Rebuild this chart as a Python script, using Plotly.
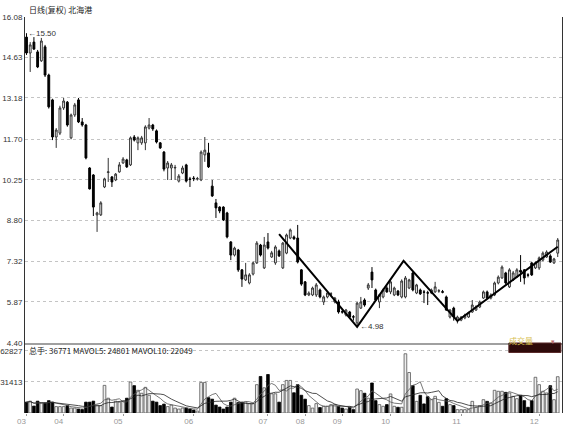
import plotly.graph_objects as go
import pandas as pd

# ---------------- data ----------------
opens = [15.36,14.79,15.18,14.83,14.51,15.01,14.00,13.11,11.78,11.92,
         12.82,13.03,11.75,12.57,13.11,12.32,12.21,10.67,10.42,8.99,
         8.99,9.99,10.51,10.35,10.24,10.53,10.85,10.96,10.78,11.78,
         11.57,11.57,11.57,12.10,12.21,12.00,11.57,11.24,10.67,10.67,
         10.67,10.20,10.49,10.78,10.28,10.31,10.27,10.24,11.14,11.21,
         10.02,9.42,9.27,9.27,9.06,8.02,7.55,7.73,7.02,6.66,
         6.55,6.87,7.27,7.91,7.09,8.02,7.48,7.27,7.70,7.09,
         7.62,8.16,8.20,8.16,7.02,6.59,6.12,6.12,6.12,6.30,
         5.87,6.05,6.15,5.87,5.87,5.52,5.40,5.51,5.34,5.12,
         5.65,5.94,6.37,6.94,6.30,5.87,6.05,6.37,6.23,6.12,
         6.26,6.05,6.05,6.37,6.91,6.19,6.30,6.23,6.20,6.19,
         6.23,6.26,6.24,6.05,5.33,5.65,5.22,5.22,5.30,5.33,
         5.51,5.58,5.69,6.01,6.23,6.01,6.12,6.55,6.73,6.91,
         6.41,6.66,6.77,7.00,7.02,6.84,7.27,7.09,7.09,7.37,
         7.48,7.52,7.27,7.62]
closes = [14.79,15.08,14.93,14.29,15.22,14.00,12.86,11.78,12.03,12.82,
          13.07,12.21,12.57,12.93,12.32,12.21,11.03,9.92,9.27,9.06,
          9.42,10.28,10.53,10.17,10.45,10.78,10.99,10.71,11.75,11.67,
          11.75,11.75,12.14,12.21,12.07,11.60,11.39,10.63,10.85,10.78,
          10.69,10.38,10.67,10.20,10.26,10.29,10.29,11.24,11.31,10.71,
          9.67,9.24,9.13,8.81,8.20,7.55,7.80,7.02,6.69,6.84,
          6.84,7.27,7.98,7.55,7.91,7.80,7.63,7.84,7.52,7.98,
          8.27,8.45,8.13,7.30,6.51,6.12,6.19,6.37,6.48,6.05,
          6.05,6.19,6.16,6.01,5.51,5.51,5.58,5.33,5.33,5.83,
          5.87,5.76,6.48,6.66,5.94,6.12,6.30,6.23,6.59,6.37,
          6.12,6.62,6.73,6.66,6.30,6.48,6.16,6.22,6.19,6.30,
          6.41,6.27,6.22,5.58,5.58,5.33,5.33,5.33,5.40,5.48,
          5.76,5.69,5.87,6.23,6.01,6.12,6.55,6.76,7.12,6.55,
          7.02,6.91,7.02,6.94,6.73,6.83,6.84,7.27,7.45,7.62,
          7.66,7.30,7.41,8.09]
highs = [15.50,15.18,15.36,14.90,15.33,15.08,14.05,13.15,12.10,12.90,
         13.18,13.07,12.62,13.00,13.18,12.46,12.25,10.70,10.45,9.10,
         9.48,10.32,11.03,10.38,10.49,10.88,11.06,11.00,11.80,11.85,
         11.80,11.82,12.20,12.46,12.25,12.05,11.60,11.28,10.92,10.85,
         10.78,10.45,10.75,10.82,10.35,10.38,10.35,11.30,11.78,11.57,
         10.24,9.56,9.30,9.30,9.10,8.05,7.85,7.77,7.05,7.27,
         6.90,7.32,8.05,7.95,8.20,8.34,7.70,7.90,7.75,8.02,
         8.32,8.50,8.25,8.63,7.05,6.62,6.25,6.42,6.55,6.35,
         6.10,6.25,6.22,6.05,5.95,5.60,5.62,5.55,5.40,5.87,
         6.05,6.00,6.55,7.12,6.35,6.15,6.35,6.45,6.65,6.42,
         6.30,6.68,6.80,6.70,6.95,6.52,6.35,6.30,6.27,6.35,
         6.59,6.33,6.30,6.10,5.62,5.70,5.38,5.36,5.45,5.52,
         5.94,5.75,5.92,6.28,6.28,6.18,6.60,6.82,7.18,6.95,
         7.08,6.98,7.08,7.55,7.05,6.90,7.30,7.32,7.50,7.68,
         7.72,7.58,7.45,8.16]
lows = [14.72,14.11,14.90,14.25,14.47,13.93,12.80,11.67,11.39,11.85,
        12.75,12.15,11.70,12.50,12.28,12.15,10.98,9.90,8.95,8.38,
        8.95,9.95,10.17,9.99,10.20,10.50,10.82,10.67,10.74,11.62,
        11.31,11.50,11.31,12.05,12.00,11.55,11.35,10.55,10.24,10.24,
        10.24,10.15,10.45,10.15,9.99,10.20,10.22,10.20,10.89,10.67,
        9.63,8.88,9.05,8.77,8.15,7.37,7.50,6.95,6.41,6.62,
        6.50,6.82,7.23,7.50,7.05,7.75,7.45,7.20,7.48,7.05,
        7.58,8.12,8.10,7.25,6.45,6.08,6.08,6.08,6.05,6.00,
        5.76,6.00,6.08,5.82,5.45,5.45,5.35,5.28,5.20,4.98,
        5.62,5.70,6.30,6.37,5.90,5.65,6.00,6.20,6.15,6.08,
        6.08,6.00,6.00,6.33,6.25,6.15,6.12,5.83,5.76,6.15,
        6.20,6.20,6.18,5.55,5.28,5.20,5.10,5.18,5.25,5.30,
        5.48,5.55,5.65,5.98,5.98,5.96,6.08,6.50,6.70,6.50,
        6.37,6.62,6.73,6.59,6.50,6.75,6.80,7.05,7.02,7.33,
        7.45,7.27,7.23,7.48]
volumes = [11000,12000,7000,12000,10000,10000,12500,11000,6500,6500,
           6500,7500,5000,5000,4000,3500,11000,11000,12000,8000,
           7500,28000,15000,6000,12000,11000,12000,15000,31400,27700,
           23000,20000,26000,18000,12000,11000,7500,9000,6500,8000,
           5000,4000,5000,5000,4000,3000,2000,31000,31000,15500,
           14000,8000,6000,4000,6000,11000,15000,10500,11000,11000,
           9500,9500,28700,37000,25500,39000,19500,19500,11000,28700,
           33000,33000,20500,28700,18000,14000,7500,5000,9500,5500,
           6800,6800,8500,8500,6800,5000,4000,5800,3400,24300,
           22600,20000,15000,30400,12500,8500,6800,8500,19300,6800,
           5800,5800,60000,41000,27700,11800,17900,9200,16500,13500,
           16900,10800,6800,14500,8500,7500,3400,3400,3400,3400,
           11800,5800,7500,13500,11800,10200,23000,22000,22000,20900,
           20300,16900,14500,17900,12500,5800,12500,36200,28700,22000,
           20300,27700,13500,36771]

price_ticks = [4.40, 5.87, 7.32, 8.80, 10.25, 11.70, 13.18, 14.63, 16.08]
price_tick_labels = ["4.40", "5.87", "7.32", "8.80", "10.25", "11.70", "13.18", "14.63", "16.08"]
vol_ticks = [31413, 62827]
vol_tick_labels = ["31413", "62827"]
month_pos = [0, 10, 26, 45, 65, 75, 85, 98, 117, 138]
month_labels = ["03", "04", "05", "06", "07", "08", "09", "10", "11", "12"]

# zig-zag trend line (bar index, price)
trend_x = [68, 89, 101.5, 116, 143]
trend_y = [8.30, 4.98, 7.34, 5.19, 7.85]

title_text = "日线(复权) 北海港"
vol_text = "总手: 36771 MAVOL5: 24801 MAVOL10: 22049"
vol_button_text = "成交量"

# ---------------- figure ----------------
idx = list(range(len(opens)))
vol_s = pd.Series(volumes, dtype=float)
ma5 = vol_s.rolling(5, min_periods=1).mean()
ma10 = vol_s.rolling(10, min_periods=1).mean()

up_x = [i for i in idx if closes[i] >= opens[i]]
dn_x = [i for i in idx if closes[i] < opens[i]]

fig = go.Figure()
fig.add_trace(go.Candlestick(
    x=idx, open=opens, high=highs, low=lows, close=closes,
    increasing=dict(line=dict(color="#333333", width=1), fillcolor="#ffffff"),
    decreasing=dict(line=dict(color="#000000", width=1), fillcolor="#000000"),
    whiskerwidth=0, showlegend=False, hoverinfo="skip", xaxis="x", yaxis="y"))

fig.add_trace(go.Scatter(x=trend_x, y=trend_y, mode="lines",
                         line=dict(color="#000000", width=2),
                         showlegend=False, hoverinfo="skip", xaxis="x", yaxis="y"))

fig.add_trace(go.Bar(x=up_x, y=[volumes[i] for i in up_x], width=0.72,
                     marker=dict(color="#eeeeee", line=dict(color="#555555", width=0.8)),
                     showlegend=False, hoverinfo="skip", xaxis="x2", yaxis="y2"))
fig.add_trace(go.Bar(x=dn_x, y=[volumes[i] for i in dn_x], width=0.72,
                     marker=dict(color="#000000", line=dict(color="#000000", width=0.8)),
                     showlegend=False, hoverinfo="skip", xaxis="x2", yaxis="y2"))
fig.add_trace(go.Scatter(x=idx, y=ma5, mode="lines", line=dict(color="#555555", width=0.8),
                         showlegend=False, hoverinfo="skip", xaxis="x2", yaxis="y2"))
fig.add_trace(go.Scatter(x=idx, y=ma10, mode="lines", line=dict(color="#222222", width=0.8),
                         showlegend=False, hoverinfo="skip", xaxis="x2", yaxis="y2"))

tick_font = dict(family="Liberation Sans, Arial, sans-serif", size=8, color="#333333")
xr = [-0.4, 144.15]
split = 0.1768

fig.update_layout(
    template="none",
    width=569, height=425,
    margin=dict(l=25, r=7, t=17, b=12, pad=0, autoexpand=False),
    paper_bgcolor="white", plot_bgcolor="white",
    showlegend=False, barmode="overlay",
    xaxis=dict(domain=[0, 1], anchor="y", range=xr, showticklabels=False, ticks="",
               showgrid=False, zeroline=False, rangeslider=dict(visible=False), automargin=False,
               showline=True, linecolor="#a0a0a0", linewidth=2),
    yaxis=dict(domain=[split, 1], anchor="x", range=[4.40, 16.08], automargin=False,
               tickvals=price_ticks, ticktext=price_tick_labels, tickfont=tick_font,
               ticks="", showgrid=True, gridcolor="#c4c4c4", griddash="dot", gridwidth=1,
               zeroline=False, showline=True, linecolor="#333333", linewidth=1, mirror=True),
    xaxis2=dict(domain=[0, 1], anchor="y2", range=xr, matches="x", automargin=False,
                tickvals=month_pos, ticktext=month_labels, ticks="outside", ticklen=2,
                tickcolor="#999999", ticklabelposition="outside left",
                tickfont=dict(family="Liberation Sans, Arial, sans-serif", size=8, color="#999999"),
                showgrid=False, zeroline=False, showline=False),
    yaxis2=dict(domain=[0, split], anchor="x2", range=[0, 70931], automargin=False,
                tickvals=vol_ticks, ticktext=vol_tick_labels, tickfont=tick_font,
                ticks="", showgrid=True, gridcolor="#c4c4c4", griddash="dot", gridwidth=1,
                zeroline=False, showline=True, linecolor="#333333", linewidth=1, mirror=True),
)

ann_font = dict(family="Noto Sans CJK SC, sans-serif", size=8, color="#222222")
fig.add_annotation(xref="paper", yref="paper", x=0.003, y=1.0, yanchor="bottom", xanchor="left",
                   text=title_text, showarrow=False, font=ann_font)
fig.add_annotation(xref="paper", yref="paper", x=0.003, y=split, yanchor="top", xanchor="left",
                   text=vol_text, showarrow=False,
                   font=dict(family="Noto Sans CJK SC, sans-serif", size=8, color="#222222"))
# high / low markers
fig.add_annotation(xref="x", yref="y", x=idx[0], y=highs[0], xanchor="left", yanchor="middle",
                   text="←15.50", showarrow=False,
                   font=dict(family="Liberation Sans, sans-serif", size=8, color="#333333"))
low_i = lows.index(min(lows))
fig.add_annotation(xref="x", yref="y", x=idx[low_i], y=lows[low_i], xanchor="left", yanchor="middle",
                   text="←4.98", showarrow=False, xshift=1,
                   font=dict(family="Liberation Sans, sans-serif", size=8, color="#333333"))
# volume selector box
fig.add_shape(type="rect", xref="paper", yref="paper", x0=0.901, x1=0.998,
              y0=split - 0.024, y1=split, fillcolor="#2e0a0a", line=dict(color="#5a2a2a", width=1),
              layer="above")
fig.add_annotation(xref="paper", yref="paper", x=0.949, y=split - 0.012, text=vol_button_text,
                   showarrow=False, font=dict(family="Noto Sans CJK SC, sans-serif", size=8, color="#d8c050"))
fig.add_annotation(xref="paper", yref="paper", x=0.99, y=split - 0.012, text="▾",
                   showarrow=False, font=dict(family="DejaVu Sans, sans-serif", size=7, color="#c07070"))

fig.write_html("out.html")
